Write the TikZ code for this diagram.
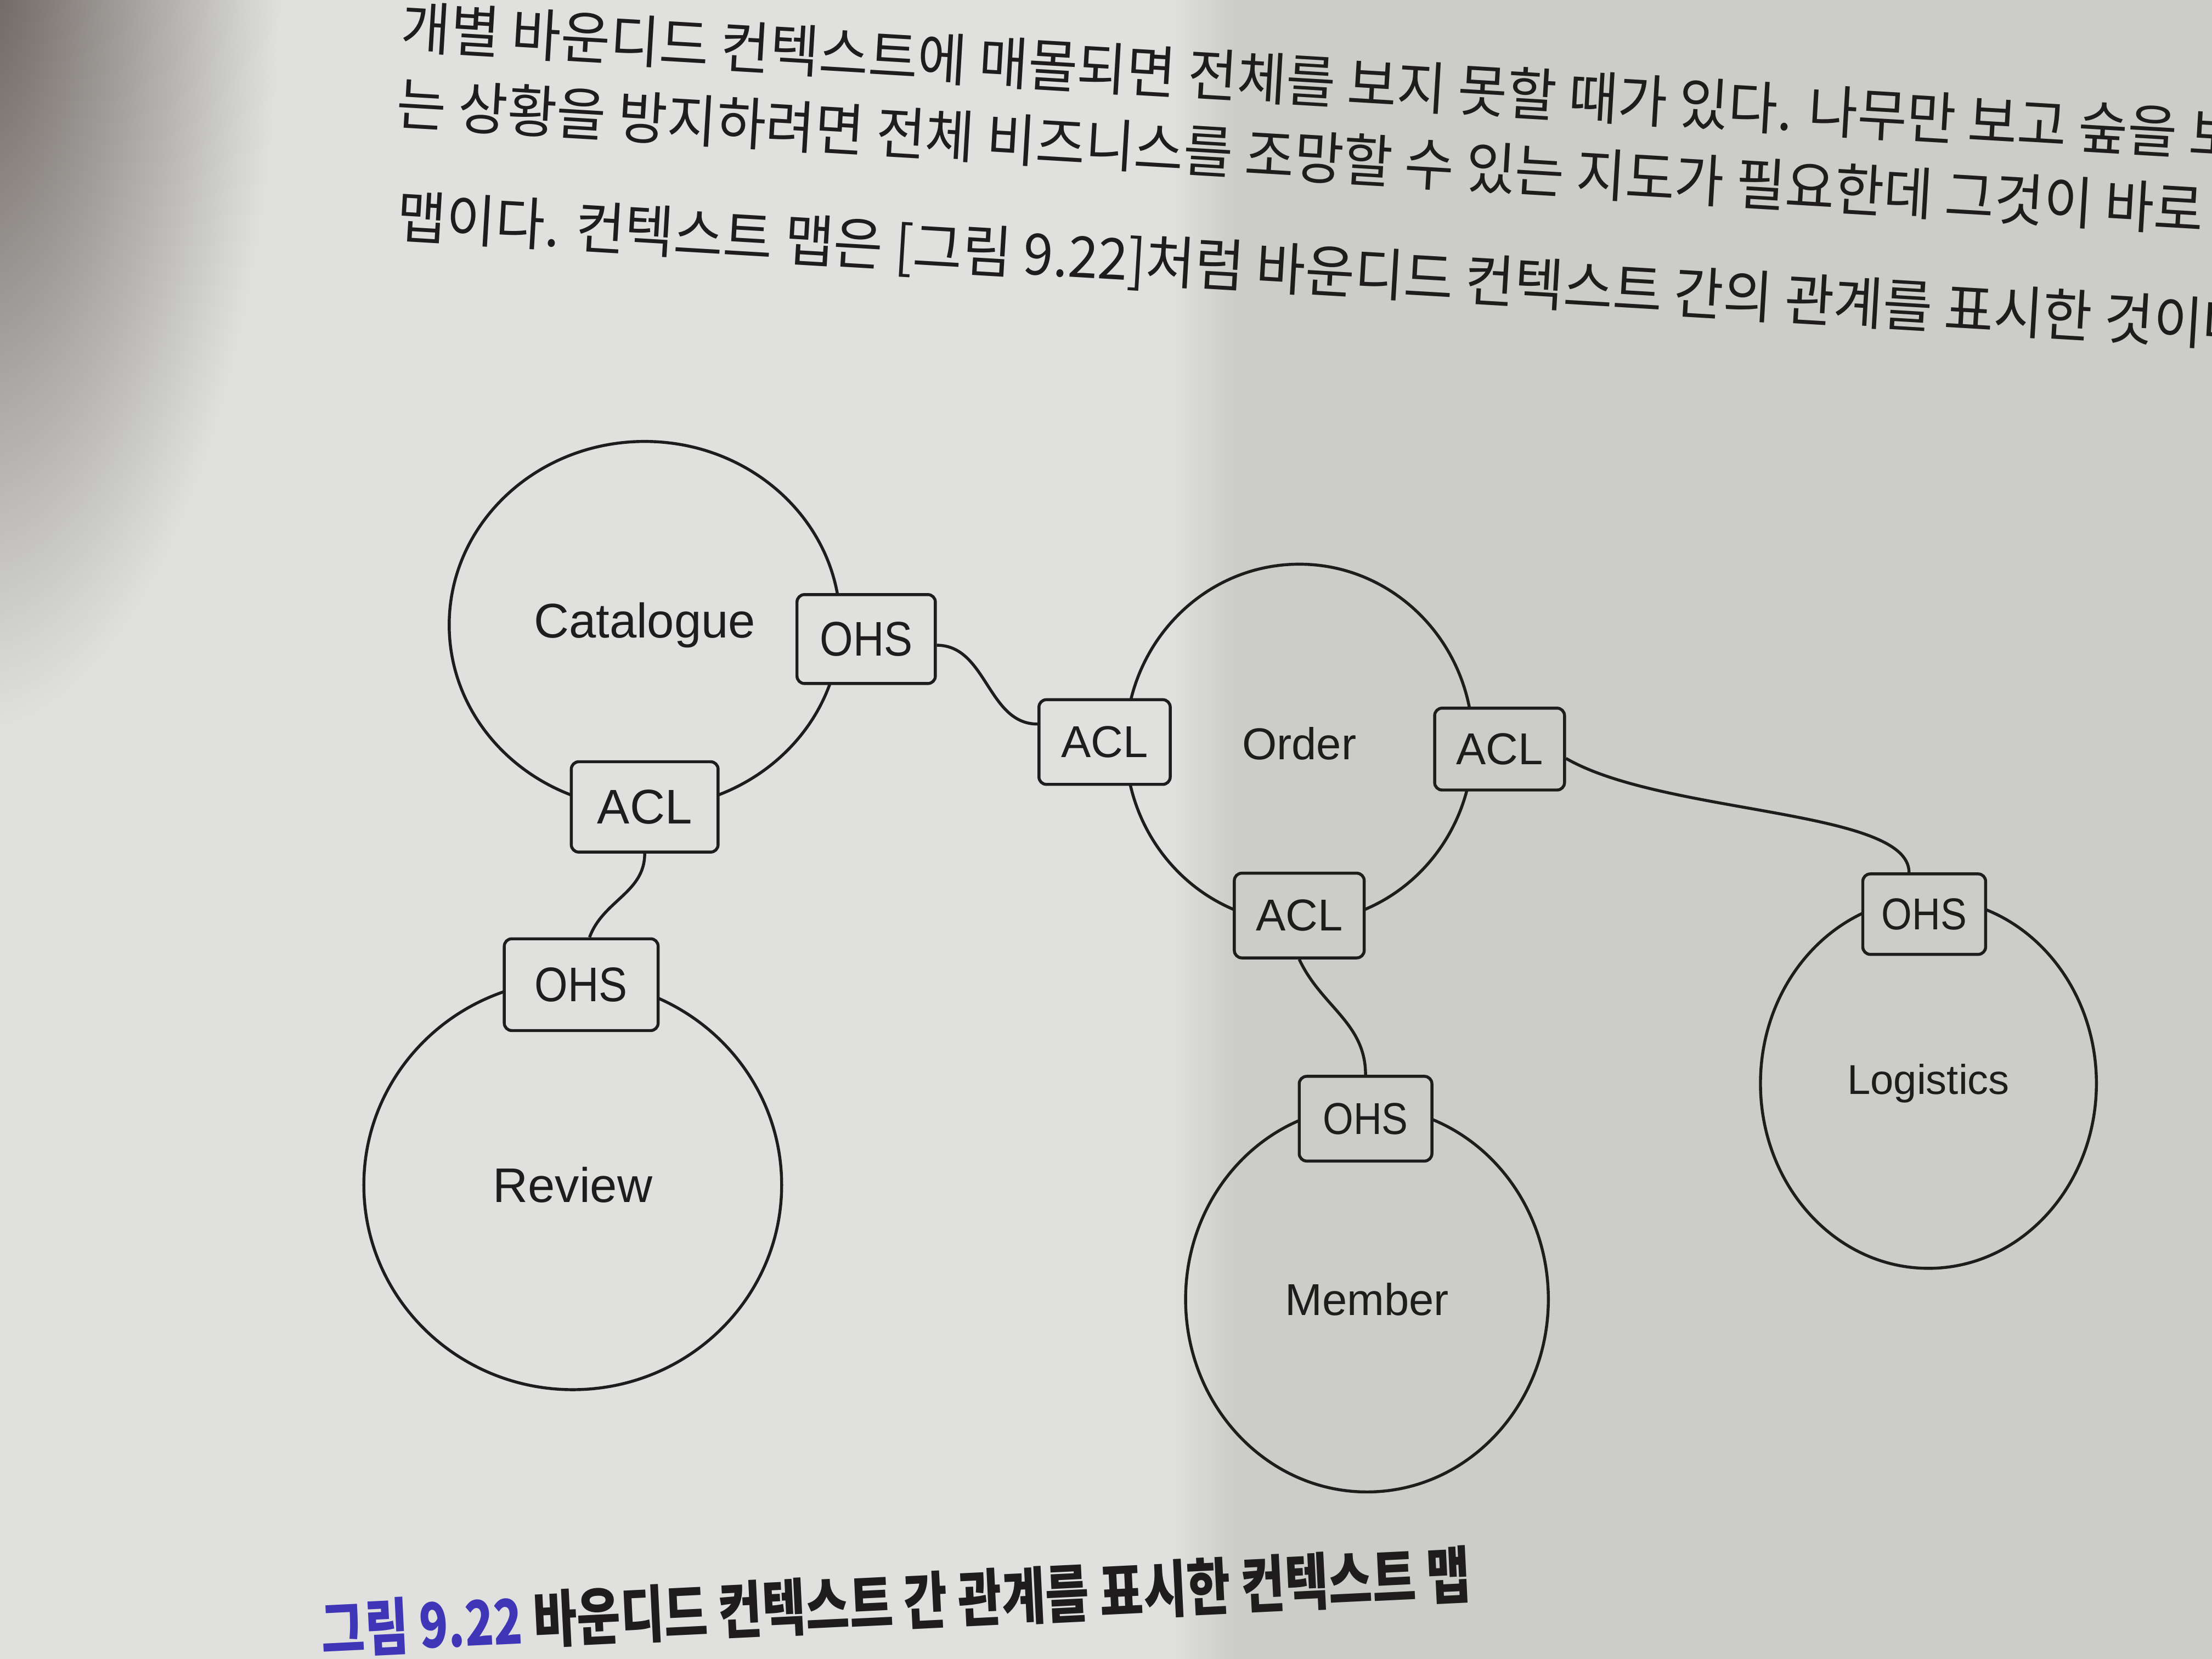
\documentclass[tikz,border=0pt]{standalone}
\usepackage{fontspec}
\setmainfont{Liberation Sans}
\newfontfamily\narrow[FakeStretch=0.88]{Liberation Sans}
\newfontfamily\krfont{Noto Sans CJK KR}
\usetikzlibrary{shapes.geometric}
\definecolor{ink}{RGB}{30,28,28}
\definecolor{paperL}{RGB}{224,225,222}
\definecolor{paperR}{RGB}{204,205,200}
\definecolor{shadow}{RGB}{100,92,88}
\definecolor{figblue}{RGB}{62,54,182}
\begin{document}
\begin{tikzpicture}[x=0.01cm, y=-0.01cm,
  ctx/.style={ellipse, draw=ink, line width=0.6pt, inner sep=0pt, text=ink, font=\fontsize{9}{11}\selectfont},
  port/.style={draw=ink, fill=paperL, line width=0.6pt, rounded corners=1.5pt, inner sep=0pt, text=ink,
    minimum width=0.94cm, minimum height=0.6cm, font=\fontsize{9}{11}\selectfont},
  big/.style={font=\fontsize{9.8}{12}\selectfont},
  link/.style={draw=ink, line width=0.6pt},
  body/.style={anchor=base west, inner sep=0pt, text=ink, font=\krfont\fontsize{11.5}{13}\selectfont, rotate=-3.4, xscale=0.94},
  caption/.style={anchor=base west, inner sep=0pt, text=ink, font=\krfont\bfseries\fontsize{12.5}{14}\selectfont, rotate=2.8, xscale=0.765}]
  \useasboundingbox (0,0) rectangle (1568,1176);
  \clip (0,0) rectangle (1568,1176);
  \fill[paperL] (0,0) rectangle (830,1176);
  \shade[left color=paperL, right color=paperR] (830,0) rectangle (875,1176);
  \fill[paperR] (875,0) rectangle (1568,1176);
  \shade[inner color=shadow, outer color=paperL] (-20,-40) ellipse (220 and 560);

  \node[body] (line1) at (283,34) {개별 바운디드 컨텍스트에 매몰되면 전체를 보지 못할 때가 있다. 나무만 보고 숲을 보};
  \node[body] (line2) at (280,88) {는 상황을 방지하려면 전체 비즈니스를 조망할 수 있는 지도가 필요한데 그것이 바로};
  \node[body] (line3) at (280,168) {맵이다. 컨텍스트 맵은 [그림 9.22]처럼 바운디드 컨텍스트 간의 관계를 표시한 것이다.};

  \node[ctx, big, minimum width=2.77cm, minimum height=2.6cm] (catalogue) at (457,443) {Catalogue};
  \node[ctx, minimum width=2.46cm, minimum height=2.54cm] (order) at (921,527) {Order};
  \node[ctx, font=\fontsize{8.4}{10}\selectfont, minimum width=2.38cm, minimum height=2.62cm] (logistics) at (1367,768) {Logistics};
  \node[ctx, big, minimum width=2.96cm, minimum height=2.9cm] (review) at (406,840) {Review};
  \node[ctx, minimum width=2.57cm, minimum height=2.73cm] (member) at (969,921) {Member};

  \node[port, big, minimum width=0.98cm, minimum height=0.63cm] (catohs) at (614,453) {\narrow OHS};
  \node[port, big, minimum width=1.04cm, minimum height=0.64cm] (catacl) at (457,572) {ACL};
  \node[port, minimum width=0.93cm] (ordaclw) at (783,526) {ACL};
  \node[port, fill=paperR, minimum width=0.92cm, minimum height=0.58cm] (ordacle) at (1063,531) {ACL};
  \node[port, fill=paperR, minimum width=0.92cm] (ordacls) at (921,649) {ACL};
  \node[port, big, minimum width=1.09cm, minimum height=0.65cm] (revohs) at (412,698) {\narrow OHS};
  \node[port, fill=paperR, minimum width=0.94cm] (memohs) at (968,793) {\narrow OHS};
  \node[port, fill=paperR, minimum width=0.87cm, minimum height=0.57cm] (logohs) at (1364,648) {\narrow OHS};

  \draw[link] (catohs.-5) to[out=0, in=180] (ordaclw.165);
  \draw[link] (catacl.south) to[out=-90, in=70] (revohs.80);
  \draw[link] (ordacls.south) to[out=-65, in=90] (memohs.north);
  \draw[link] (ordacle.-8) to[out=-30, in=90, out looseness=0.8, in looseness=0.45] (logohs.110);

  \node[caption] (cap) at (228,1172) {\textcolor{figblue}{그림 9.22} 바운디드 컨텍스트 간 관계를 표시한 컨텍스트 맵};
\end{tikzpicture}
\end{document}
